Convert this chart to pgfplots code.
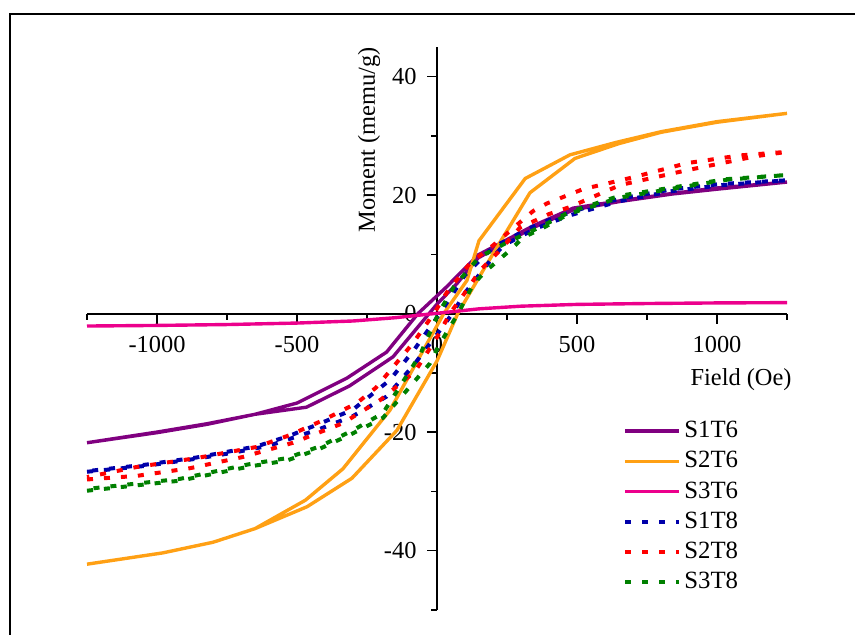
\documentclass[border=0pt]{standalone}
\usepackage{fontspec}
\setmainfont{Liberation Serif}
\usepackage{pgfplots}
\pgfplotsset{compat=1.18}
\definecolor{cpurple}{RGB}{128,0,128}
\definecolor{corange}{RGB}{255,160,20}
\definecolor{cmagenta}{RGB}{236,0,140}
\definecolor{cnavy}{RGB}{0,0,170}
\definecolor{cred}{RGB}{255,0,0}
\definecolor{cgreen}{RGB}{0,128,0}
\begin{document}
\begin{tikzpicture}
\fontsize{12.2}{14}\selectfont
\begin{axis}[
  at={(0,0)}, anchor=south west,
  scale only axis, width=350pt, height=281.4pt,
  xmin=-1250, xmax=1250, ymin=-50, ymax=45,
  axis x line*=middle, axis y line*=middle,
  axis line style={line width=1pt, black},
  xtick={-1000,-500,0,500,1000},
  ytick={-40,-20,0,20,40},
  minor xtick={-1250,-750,-250,250,750,1250},
  minor ytick={-50,-30,-10,10,30},
  hide obscured x ticks=false, hide obscured y ticks=false,
  tick align=outside,
  major tick length=5pt, minor tick length=3pt,
  tick style={line width=0.8pt, black},
  xticklabel style={yshift=-2pt},
  yticklabel style={xshift=-1pt},
  /pgf/number format/assume math mode=true,
  /pgf/number format/1000 sep={},
  ticklabel style={font=\fontsize{12.2}{14}\selectfont},
  clip=false,
  legend style={at={(0.757,0.351)}, anchor=north west, draw=none, fill=none,
    font=\fontsize{12.4}{14}\selectfont, row sep=0.6pt,
    nodes={inner sep=1.5pt, text height=9pt, text depth=2.5pt}},
  legend cell align=left,
  legend image code/.code={\draw[#1] (0pt,0pt) -- (27pt,0pt);},
]
% S1T6
\addplot[cpurple, line width=1.7pt] coordinates {
(-1250,-21.8) (-1000,-20.1) (-822,-18.7) (-650,-17.0) (-466,-15.8) (-312,-12.2) (-157,-7.3) (0,1.6) (70,5.0) (147,9.4) (343,14.5) (486,17.5) (650,18.9) (843,20.2) (1000,21.0) (1250,22.2)
(1000,21.2) (843,20.3) (650,19.0) (486,17.8) (343,14.8) (147,9.9) (34,4.5) (0,3.0) (-68,0) (-180,-6.5) (-322,-10.9) (-500,-15.1) (-650,-17.0) (-822,-18.6) (-1000,-20.0) (-1250,-21.8)};
\addlegendentry{S1T6}
% S2T6
\addplot[corange, line width=1.7pt] coordinates {
(-1250,-42.3) (-980,-40.4) (-800,-38.6) (-650,-36.3) (-464,-32.6) (-304,-27.8) (-143,-19.7) (0,-8) (74,0) (171,7.8) (332,20.4) (493,26.2) (650,28.7) (800,30.6) (1000,32.3) (1250,33.8)
(1000,32.4) (800,30.7) (640,28.9) (475,26.8) (315,22.8) (150,12.3) (107,5.6) (24,0) (-168,-16.3) (-336,-26.2) (-470,-31.5) (-650,-36.3) (-800,-38.6) (-980,-40.4) (-1250,-42.3)};
\addlegendentry{S2T6}
% S3T6
\addplot[cmagenta, line width=1.7pt] coordinates {
(-1250,-2.1) (-1000,-2.0) (-750,-1.85) (-500,-1.6) (-300,-1.25) (-150,-0.7) (0,0.05) (150,0.8) (300,1.25) (500,1.55) (750,1.7) (1000,1.8) (1250,1.85)};
\addlegendentry{S3T6}
% S1T8
\addplot[cnavy, line width=2pt, dash pattern=on 3pt off 5.5pt] coordinates {
(-1250,-26.7) (-1040,-25.7) (-860,-24.5) (-730,-23.5) (-600,-22.3) (-420,-19.5) (-300,-17.3) (-180,-14) (-80,-8.5) (0,-3.5) (55,0) (100,3.5) (196,9.3) (237,11.5) (350,14.3) (468,16.5) (654,19) (843,20.7) (1021,21.7) (1250,22.5)
(1020,21.9) (843,21) (654,19.4) (530,17.9) (415,16.1) (330,14.4) (200,11.2) (100,6.5) (10,0) (-80,-6) (-168,-11.2) (-300,-16.2) (-410,-18.4) (-525,-20.6) (-643,-22.4) (-860,-24.3) (-1040,-25.5) (-1250,-26.6)};
\addlegendentry{S1T8}
% S2T8
\addplot[cred, line width=2pt, dash pattern=on 3pt off 5.5pt] coordinates {
(-1250,-28) (-1073,-27.4) (-882,-26.1) (-693,-24.2) (-514,-21.8) (-336,-18.5) (-200,-14.5) (-79,-9.8) (0,-4) (46,0) (107,4) (154,7.3) (225,10.7) (296,14.5) (400,16.8) (475,18) (654,21.7) (893,24.2) (1143,26.6) (1250,27.3)
(1082,26.7) (893,25.4) (700,23) (521,21) (393,18.6) (343,17.3) (200,11.5) (118,8.5) (34,3.5) (-7,0.3) (-86,-5) (-218,-12.5) (-286,-15.1) (-407,-18) (-525,-20.5) (-643,-22.5) (-860,-24.4) (-1073,-25.9) (-1250,-27.6)};
\addlegendentry{S2T8}
% S3T8
\addplot[cgreen, line width=2pt, dash pattern=on 3pt off 5.5pt] coordinates {
(-1250,-29.9) (-918,-28.2) (-668,-25.8) (-536,-24.8) (-418,-22.8) (-304,-20.3) (-193,-17.6) (-107,-12.9) (-25,-8.4) (4,-5.6) (75,0) (130,5) (177,7.3) (261,10.7) (309,12.9) (368,14.2) (475,16.9) (654,19.6) (843,21.1) (1036,22.6) (1250,23.4)
(1036,22.7) (843,21.3) (654,19.9) (475,17.2) (368,14.6) (250,12) (150,9.5) (60,4.5) (5,0) (-61,-7) (-193,-16.8) (-304,-19.8) (-418,-22.4) (-536,-24.4) (-668,-25.4) (-918,-27.9) (-1250,-29.6)};
\addlegendentry{S3T8}
\node[rotate=90] at (axis cs:-243,29.3) {Moment (memu/g)};
\node at (axis cs:1086,-11.2) {Field (Oe)};
\end{axis}
\draw[line width=1.1pt] (-38.5pt,-30pt) -- (-38.5pt,297.9pt) -- (420pt,297.9pt);
\pgfresetboundingbox
\path[use as bounding box] (-43.5pt,-12.6pt) rectangle (384pt,304.9pt);
\end{tikzpicture}
\end{document}
